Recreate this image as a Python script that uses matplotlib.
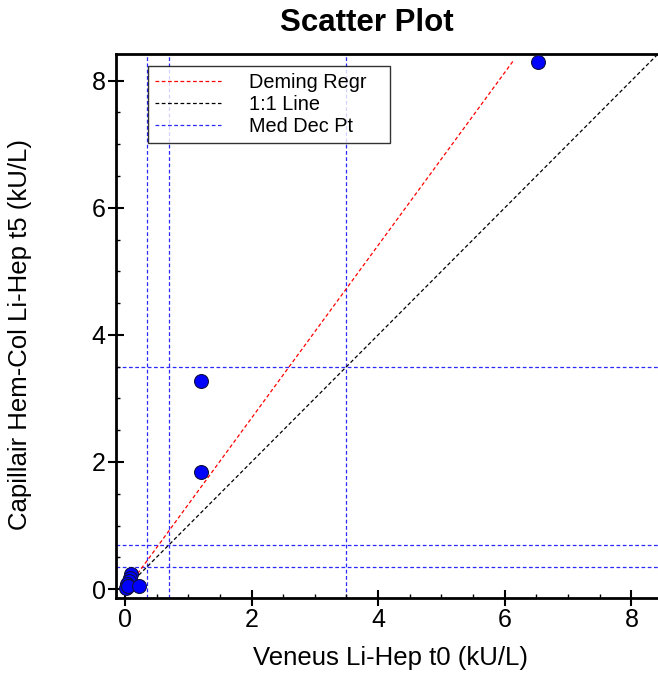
import numpy as np
import matplotlib
matplotlib.use("Agg")
import matplotlib.pyplot as plt
from matplotlib.ticker import MultipleLocator

plt.rcParams['font.family'] = ['Liberation Sans', 'DejaVu Sans']

# data
veneus = [0.10, 0.08, 0.06, 0.04, 0.03, 0.02, 0.05, 0.22, 1.20, 1.20, 6.52]
capillair = [0.24, 0.18, 0.12, 0.08, 0.03, 0.01, 0.05, 0.05, 1.84, 3.28, 8.30]

deming_x = [0.20, 6.15]
deming_intercept = -0.03
deming_slope = 1.36
identity_x = [0.15, 9.0]
med_dec_pts = [0.35, 0.7, 3.5]

ticks = [0, 2, 4, 6, 8]
lims = (-0.14, 8.42)

fig = plt.figure(figsize=(6.58, 6.75), dpi=100)
ax = fig.add_axes([0.1763, 0.1141, 0.8237, 0.8059])

dash = (0, (3, 2))
dx = np.array(deming_x)
ax.plot(dx, deming_intercept + deming_slope * dx, color='red', lw=0.9,
        linestyle=dash, label='Deming Regr', zorder=2)
ax.plot(identity_x, identity_x, color='black', lw=0.9, linestyle=dash,
        label='1:1 Line', zorder=2)
for i, p in enumerate(med_dec_pts):
    ax.axvline(p, color='#2a2aff', lw=0.9, linestyle=dash,
               label='Med Dec Pt' if i == 0 else None, zorder=1)
    ax.axhline(p, color='#2a2aff', lw=0.9, linestyle=dash, zorder=1)

ax.scatter(veneus, capillair, s=100, color='#0000ff', edgecolors='#101040',
           linewidths=0.8, zorder=3)

ax.set_xlim(*lims)
ax.set_ylim(*lims)
ax.set_xticks(ticks)
ax.set_yticks(ticks)
ax.xaxis.set_minor_locator(MultipleLocator(0.5))
ax.yaxis.set_minor_locator(MultipleLocator(0.5))
ax.tick_params(which='major', direction='inout', length=11, width=1.5,
               labelsize=18, pad=2)
ax.tick_params(which='minor', direction='in', length=3, width=1.0)
ax.tick_params(top=False, right=False, which='both')
for side in ['left', 'bottom', 'top']:
    ax.spines[side].set_linewidth(2)
ax.spines['right'].set_visible(False)

leg = ax.legend(loc='upper left', bbox_to_anchor=(0.059, 0.83, 0.446, 0.148),
                mode='expand', fontsize=14.3, frameon=True, fancybox=False,
                edgecolor='black', handlelength=3.35, handletextpad=1.4,
                borderaxespad=0, borderpad=0.35, labelspacing=0.15)
leg.get_frame().set_linewidth(1.0)

fig.text(0.558, 0.966, 'Scatter Plot', ha='center', va='center',
         fontsize=22.5, fontweight='bold')
fig.text(0.593, 0.025, 'Veneus Li-Hep t0 (kU/L)', ha='center', va='center',
         fontsize=18.5)
fig.text(0.030, 0.504, 'Capillair Hem-Col Li-Hep t5 (kU/L)', ha='center',
         va='center', rotation=90, fontsize=18.5)

fig.savefig('out.png', dpi=100)
